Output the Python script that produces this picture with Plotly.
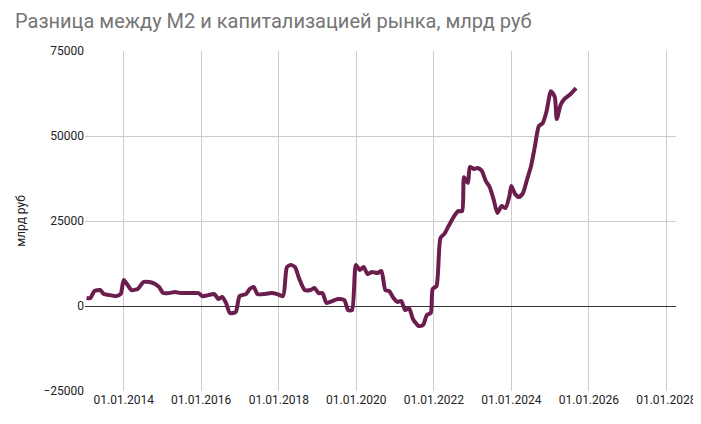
import plotly.graph_objects as go
import pandas as pd

years = [2013.04, 2013.14, 2013.24, 2013.39, 2013.49, 2013.64, 2013.80, 2013.92, 2014.00, 2014.10,
         2014.20, 2014.36, 2014.51, 2014.66, 2014.81, 2014.91, 2015.02, 2015.17, 2015.32, 2015.47,
         2015.62, 2015.78, 2015.93, 2016.03, 2016.18, 2016.34, 2016.44, 2016.54, 2016.64, 2016.74,
         2016.89, 2016.99, 2017.15, 2017.25, 2017.35, 2017.45, 2017.60, 2017.81, 2017.96, 2018.11,
         2018.21, 2018.31, 2018.42, 2018.52, 2018.67, 2018.82, 2018.92, 2019.03, 2019.13, 2019.23,
         2019.38, 2019.53, 2019.69, 2019.79, 2019.89, 2019.99, 2020.09, 2020.19, 2020.29, 2020.40,
         2020.55, 2020.65, 2020.75, 2020.85, 2020.96, 2021.06, 2021.16, 2021.26, 2021.36, 2021.46,
         2021.61, 2021.72, 2021.82, 2021.92, 2021.97, 2022.07, 2022.17, 2022.27, 2022.38, 2022.53,
         2022.63, 2022.73, 2022.78, 2022.88, 2022.93, 2023.04, 2023.14, 2023.24, 2023.34, 2023.44,
         2023.54, 2023.64, 2023.75, 2023.85, 2023.95, 2024.00, 2024.10, 2024.20, 2024.30, 2024.41,
         2024.51, 2024.61, 2024.71, 2024.81, 2024.91, 2025.02, 2025.12, 2025.17, 2025.27, 2025.37,
         2025.52, 2025.67]
values = [2350, 2350, 4400, 4700, 3500, 3200, 2900, 3500, 7650, 6200,
          4700, 5000, 7050, 7050, 6500, 5600, 3800, 3800, 4100, 3800,
          3800, 3800, 3800, 2900, 3200, 3500, 2050, 2650, 900, -2050,
          -1750, 2900, 3500, 5000, 5600, 3500, 3500, 3800, 3500, 2900,
          11450, 12050, 11450, 8250, 4700, 4700, 5300, 3800, 3800, 900,
          1450, 2050, 1750, -1200, -1200, 12050, 10600, 11450, 9400, 10000,
          9700, 10300, 4700, 4400, 2350, 1200, 1450, -1200, -600, -3800,
          -5900, -5600, -2650, -2050, 5000, 5900, 20000, 21200, 23500, 26500,
          27900, 27900, 37900, 36200, 40900, 40300, 40600, 39700, 36800, 35000,
          31500, 27350, 29400, 28800, 32350, 35300, 32900, 32050, 33200, 37350,
          41200, 47000, 52900, 53800, 57300, 63200, 61450, 55000, 59100, 60900,
          62300, 64100]

def to_date(y):
    base = pd.Timestamp(int(y), 1, 1)
    return base + pd.Timedelta(days=(y - int(y)) * 365.25)

dates = [to_date(y) for y in years]
tick_dates = ["2014-01-01", "2016-01-01", "2018-01-01", "2020-01-01",
              "2022-01-01", "2024-01-01", "2026-01-01", "2028-01-01"]
tick_labels = ["01.01.2014", "01.01.2016", "01.01.2018", "01.01.2020",
               "01.01.2022", "01.01.2024", "01.01.2026", "01.01.2028"]

fig = go.Figure(go.Scatter(x=dates, y=values, mode="lines",
                           line=dict(color="#6b1e4e", width=4, shape="spline", smoothing=0.6),
                           showlegend=False))

fig.update_layout(
    width=701, height=424,
    margin=dict(l=73, r=26, t=43, b=41),
    paper_bgcolor="white", plot_bgcolor="white",
    font=dict(family="Roboto, Arial", color="#222", size=12),
    title=dict(text="Разница между M2 и капитализацией рынка, млрд руб",
               x=0.01, y=0.985, xanchor="left", yanchor="top",
               font=dict(size=20, color="#757575")),
)
fig.update_xaxes(range=["2013-01-01", "2028-04-01"], tickvals=tick_dates, ticktext=tick_labels,
                 showgrid=True, gridcolor="#cccccc", zeroline=False, tickfont=dict(size=12))
fig.update_yaxes(range=[-25000, 75000], tickvals=[-25000, 0, 25000, 50000, 75000],
                 tickformat="d", showgrid=True, gridcolor="#cccccc",
                 zeroline=True, zerolinecolor="#333333", zerolinewidth=1,
                 title=dict(text="млрд руб", font=dict(size=12)), tickfont=dict(size=12))

fig.write_html("out.html")
